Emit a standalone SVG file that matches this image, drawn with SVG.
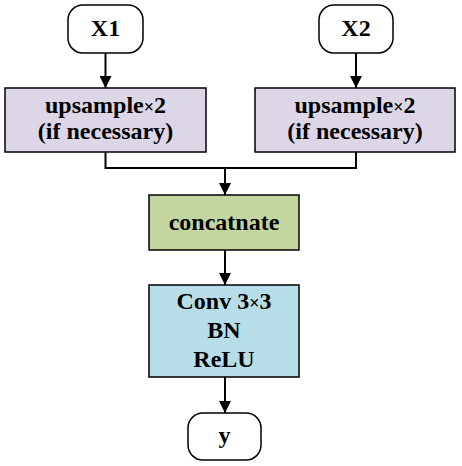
<svg xmlns="http://www.w3.org/2000/svg" width="462" height="466" viewBox="0 0 462 466">
<style>
text{font-family:"Liberation Serif","Times New Roman",serif;font-weight:bold;font-size:24px;text-anchor:middle;fill:#000}
.x{font-size:18px}
.box{stroke:#000;stroke-width:1.5}
.term{fill:#fff;stroke:#000;stroke-width:1.5}
.up{fill:#DCD6E6}
.cat{fill:#C4D69F}
.conv{fill:#B7DEE8}
.con{fill:none;stroke:#000;stroke-width:2}
</style>
<defs>
<marker id="ah" viewBox="0 0 12 12" refX="12" refY="6" markerWidth="12" markerHeight="12" markerUnits="userSpaceOnUse" orient="auto">
<path d="M0,0 L12,6 L0,12 Z" fill="#000"/>
</marker>
</defs>
<rect width="462" height="466" fill="#fff"/>
<g id="connectors">
<line class="con" x1="105.5" y1="53" x2="105.5" y2="88" marker-end="url(#ah)"/>
<line class="con" x1="356" y1="53" x2="356" y2="88" marker-end="url(#ah)"/>
<polyline class="con" points="105.5,152 105.5,168 356,168 356,152"/>
<line class="con" x1="225" y1="168" x2="225" y2="195" marker-end="url(#ah)"/>
<line class="con" x1="225" y1="250" x2="225" y2="285" marker-end="url(#ah)"/>
<line class="con" x1="225" y1="377" x2="225" y2="413" marker-end="url(#ah)"/>
</g>
<g id="X1"><rect class="term" x="68" y="5" width="75" height="48" rx="15"/><text x="105.5" y="36">X1</text></g>
<g id="X2"><rect class="term" x="319" y="5" width="74" height="48" rx="15"/><text x="356" y="36">X2</text></g>
<g id="up1"><rect class="box up" x="5" y="88" width="201" height="64"/><text x="105.5" y="113">upsample<tspan class="x">×</tspan>2</text><text x="105.5" y="139">(if necessary)</text></g>
<g id="up2"><rect class="box up" x="255" y="88" width="200" height="64"/><text x="355" y="113">upsample<tspan class="x">×</tspan>2</text><text x="355" y="139">(if necessary)</text></g>
<g id="concat"><rect class="box cat" x="149" y="195" width="150" height="55"/><text x="224" y="230">concatnate</text></g>
<g id="conv"><rect class="box conv" x="149" y="285" width="150" height="92"/><text x="224" y="309">Conv 3<tspan class="x">×</tspan>3</text><text x="224" y="338">BN</text><text x="224" y="367">ReLU</text></g>
<g id="y"><rect class="term" x="188" y="413" width="73" height="47" rx="15"/><text x="224.5" y="443">y</text></g>
</svg>
